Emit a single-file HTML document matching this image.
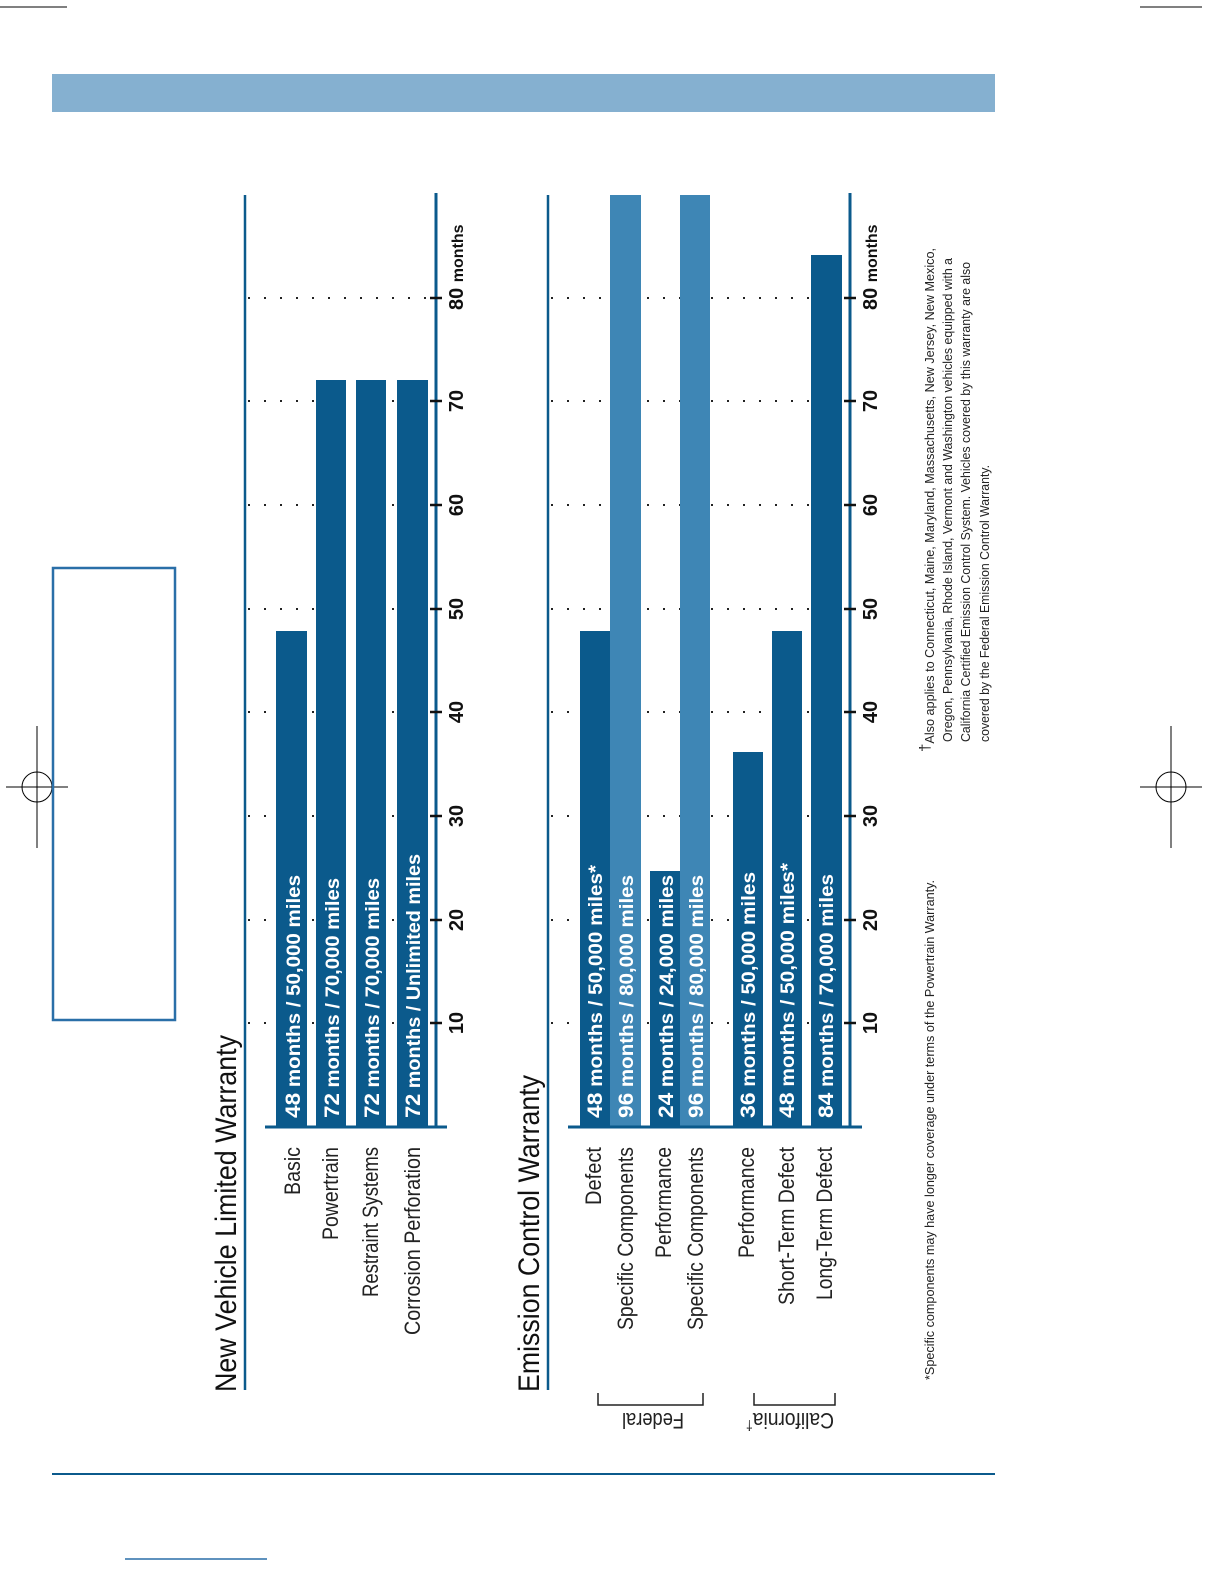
<!DOCTYPE html>
<html><head><meta charset="utf-8"><style>html,body{margin:0;padding:0;background:#fff}svg{display:block}</style></head>
<body>
<svg width="1224" height="1584" viewBox="0 0 1224 1584" xmlns="http://www.w3.org/2000/svg" font-family="Liberation Sans, sans-serif">
<!-- crop marks -->
<g stroke="#000" stroke-width="1" fill="none">
<line x1="0" y1="7" x2="67" y2="7"/><line x1="1140" y1="7" x2="1202" y2="7"/>
<circle cx="37" cy="787" r="15"/><line x1="37" y1="726" x2="37" y2="848"/><line x1="6" y1="787" x2="68" y2="787"/>
<circle cx="1171" cy="787" r="15"/><line x1="1171" y1="726" x2="1171" y2="848"/><line x1="1140" y1="787" x2="1202" y2="787"/>
</g>
<rect x="52" y="74" width="943" height="38" fill="#85b0d0"/>
<rect x="53" y="568" width="122" height="452" fill="none" stroke="#2a6fa8" stroke-width="2.5"/>
<line x1="52" y1="1474" x2="995" y2="1474" stroke="#0b5a8c" stroke-width="2"/>
<line x1="125" y1="1559" x2="267" y2="1559" stroke="#2a6fa8" stroke-width="1.5"/>

<!-- gridlines -->
<g stroke="#222" stroke-width="2" stroke-dasharray="2 14">
<line x1="248" y1="1023" x2="430" y2="1023"/><line x1="248" y1="920" x2="430" y2="920"/><line x1="248" y1="816" x2="430" y2="816"/><line x1="248" y1="712" x2="430" y2="712"/><line x1="248" y1="609" x2="430" y2="609"/><line x1="248" y1="505" x2="430" y2="505"/><line x1="248" y1="401" x2="430" y2="401"/><line x1="248" y1="298" x2="430" y2="298"/>
<line x1="551" y1="1023" x2="845" y2="1023"/><line x1="551" y1="920" x2="845" y2="920"/><line x1="551" y1="816" x2="845" y2="816"/><line x1="551" y1="712" x2="845" y2="712"/><line x1="551" y1="609" x2="845" y2="609"/><line x1="551" y1="505" x2="845" y2="505"/><line x1="551" y1="401" x2="845" y2="401"/><line x1="551" y1="298" x2="845" y2="298"/>
</g>

<!-- chart 1 -->
<line x1="245" y1="195" x2="245" y2="1390" stroke="#0b5a8c" stroke-width="2.5"/>
<g fill="#0b5a8c">
<rect x="276" y="631" width="31" height="496"/>
<rect x="316" y="380" width="30" height="747"/>
<rect x="356" y="380" width="30" height="747"/>
<rect x="397" y="380" width="31" height="747"/>
</g>
<line x1="436" y1="193" x2="436" y2="1127" stroke="#0b5a8c" stroke-width="3"/>
<line x1="265" y1="1127" x2="447" y2="1127" stroke="#0b5a8c" stroke-width="3"/>
<g stroke="#111" stroke-width="2.5">
<line x1="430" y1="1023" x2="442" y2="1023"/><line x1="430" y1="920" x2="442" y2="920"/><line x1="430" y1="816" x2="442" y2="816"/><line x1="430" y1="712" x2="442" y2="712"/><line x1="430" y1="609" x2="442" y2="609"/><line x1="430" y1="505" x2="442" y2="505"/><line x1="430" y1="401" x2="442" y2="401"/><line x1="430" y1="298" x2="442" y2="298"/>
</g>
<!-- chart 2 -->
<line x1="548" y1="195" x2="548" y2="1390" stroke="#0b5a8c" stroke-width="2.5"/>
<rect x="580" y="631" width="30" height="496" fill="#0b5a8c"/>
<rect x="610" y="195" width="31" height="932" fill="#3e86b5"/>
<rect x="650" y="871" width="30" height="256" fill="#0b5a8c"/>
<rect x="680" y="195" width="30" height="932" fill="#3e86b5"/>
<rect x="733" y="752" width="30" height="375" fill="#0b5a8c"/>
<rect x="772" y="631" width="30" height="496" fill="#0b5a8c"/>
<rect x="811" y="255" width="31" height="872" fill="#0b5a8c"/>
<line x1="850" y1="193" x2="850" y2="1127" stroke="#0b5a8c" stroke-width="3"/>
<line x1="568" y1="1127" x2="862" y2="1127" stroke="#0b5a8c" stroke-width="3"/>
<g stroke="#111" stroke-width="2.5">
<line x1="844" y1="1023" x2="856" y2="1023"/><line x1="844" y1="920" x2="856" y2="920"/><line x1="844" y1="816" x2="856" y2="816"/><line x1="844" y1="712" x2="856" y2="712"/><line x1="844" y1="609" x2="856" y2="609"/><line x1="844" y1="505" x2="856" y2="505"/><line x1="844" y1="401" x2="856" y2="401"/><line x1="844" y1="298" x2="856" y2="298"/>
</g>

<!-- tick labels -->
<g font-weight="bold" font-size="20" fill="#111" text-anchor="middle">
<text transform="translate(463,1023) rotate(-90)">10</text><text transform="translate(463,920) rotate(-90)">20</text><text transform="translate(463,816) rotate(-90)">30</text><text transform="translate(463,712) rotate(-90)">40</text><text transform="translate(463,609) rotate(-90)">50</text><text transform="translate(463,505) rotate(-90)">60</text><text transform="translate(463,401) rotate(-90)">70</text>
<text transform="translate(877,1023) rotate(-90)">10</text><text transform="translate(877,920) rotate(-90)">20</text><text transform="translate(877,816) rotate(-90)">30</text><text transform="translate(877,712) rotate(-90)">40</text><text transform="translate(877,609) rotate(-90)">50</text><text transform="translate(877,505) rotate(-90)">60</text><text transform="translate(877,401) rotate(-90)">70</text>
</g>
<g font-weight="bold" fill="#111">
<text transform="translate(463,310) rotate(-90)" font-size="20">80 <tspan font-size="16">months</tspan></text>
<text transform="translate(877,310) rotate(-90)" font-size="20">80 <tspan font-size="16">months</tspan></text>
</g>

<!-- bar labels -->
<g font-weight="bold" font-size="19" fill="#fff">
<text transform="translate(300,1118) rotate(-90)" textLength="243" lengthAdjust="spacingAndGlyphs"><tspan font-size="21">48</tspan> months / 50,000 miles</text>
<text transform="translate(339,1118) rotate(-90)" textLength="240" lengthAdjust="spacingAndGlyphs"><tspan font-size="21">72</tspan> months / 70,000 miles</text>
<text transform="translate(379,1118) rotate(-90)" textLength="240" lengthAdjust="spacingAndGlyphs"><tspan font-size="21">72</tspan> months / 70,000 miles</text>
<text transform="translate(420,1118) rotate(-90)" textLength="264" lengthAdjust="spacingAndGlyphs"><tspan font-size="21">72</tspan> months / Unlimited miles</text>
<text transform="translate(602,1118) rotate(-90)" textLength="253" lengthAdjust="spacingAndGlyphs"><tspan font-size="21">48</tspan> months / 50,000 miles*</text>
<text transform="translate(633,1118) rotate(-90)" textLength="243" lengthAdjust="spacingAndGlyphs"><tspan font-size="21">96</tspan> months / 80,000 miles</text>
<text transform="translate(673,1118) rotate(-90)" textLength="243" lengthAdjust="spacingAndGlyphs"><tspan font-size="21">24</tspan> months / 24,000 miles</text>
<text transform="translate(703,1118) rotate(-90)" textLength="243" lengthAdjust="spacingAndGlyphs"><tspan font-size="21">96</tspan> months / 80,000 miles</text>
<text transform="translate(755,1118) rotate(-90)" textLength="246" lengthAdjust="spacingAndGlyphs"><tspan font-size="21">36</tspan> months / 50,000 miles</text>
<text transform="translate(794,1118) rotate(-90)" textLength="255" lengthAdjust="spacingAndGlyphs"><tspan font-size="21">48</tspan> months / 50,000 miles*</text>
<text transform="translate(833,1118) rotate(-90)" textLength="244" lengthAdjust="spacingAndGlyphs"><tspan font-size="21">84</tspan> months / 70,000 miles</text>
</g>

<!-- titles -->
<g font-size="30" fill="#111">
<text transform="translate(236,1392) rotate(-90)" textLength="357" lengthAdjust="spacingAndGlyphs">New Vehicle Limited Warranty</text>
<text transform="translate(539,1392) rotate(-90)" textLength="317" lengthAdjust="spacingAndGlyphs">Emission Control Warranty</text>
</g>
<!-- category labels -->
<g font-size="22" fill="#222" text-anchor="end">
<text transform="translate(300,1147) rotate(-90)" textLength="48" lengthAdjust="spacingAndGlyphs">Basic</text>
<text transform="translate(338,1147) rotate(-90)" textLength="93" lengthAdjust="spacingAndGlyphs">Powertrain</text>
<text transform="translate(378,1147) rotate(-90)" textLength="150" lengthAdjust="spacingAndGlyphs">Restraint Systems</text>
<text transform="translate(420,1147) rotate(-90)" textLength="188" lengthAdjust="spacingAndGlyphs">Corrosion Perforation</text>
<text transform="translate(601,1147) rotate(-90)" textLength="58" lengthAdjust="spacingAndGlyphs">Defect</text>
<text transform="translate(633,1147) rotate(-90)" textLength="183" lengthAdjust="spacingAndGlyphs">Specific Components</text>
<text transform="translate(671,1147) rotate(-90)" textLength="111" lengthAdjust="spacingAndGlyphs">Performance</text>
<text transform="translate(703,1147) rotate(-90)" textLength="183" lengthAdjust="spacingAndGlyphs">Specific Components</text>
<text transform="translate(754,1147) rotate(-90)" textLength="111" lengthAdjust="spacingAndGlyphs">Performance</text>
<text transform="translate(794,1147) rotate(-90)" textLength="158" lengthAdjust="spacingAndGlyphs">Short-Term Defect</text>
<text transform="translate(832,1147) rotate(-90)" textLength="153" lengthAdjust="spacingAndGlyphs">Long-Term Defect</text>
</g>
<!-- brackets -->
<g fill="none" stroke="#222" stroke-width="1.5">
<polyline points="598,1393 598,1405 703,1405 703,1393"/>
<polyline points="754,1393 754,1405 835,1405 835,1393"/>
</g>
<g font-size="22" fill="#222" text-anchor="middle">
<text transform="translate(653,1413) rotate(180)" textLength="62" lengthAdjust="spacingAndGlyphs">Federal</text>
<text transform="translate(790,1413) rotate(180)" textLength="88" lengthAdjust="spacingAndGlyphs">California<tspan font-size="14" dy="-8">†</tspan></text>
</g>

<!-- footnotes -->
<g font-size="12.5" fill="#222">
<text transform="translate(934,1380) rotate(-90)" textLength="500" lengthAdjust="spacingAndGlyphs">*Specific components may have longer coverage under terms of the Powertrain Warranty.</text>
<text transform="translate(934,752) rotate(-90)" textLength="504" lengthAdjust="spacingAndGlyphs"><tspan font-size="15" dy="-4">†</tspan><tspan dy="4">Also applies to Connecticut, Maine, Maryland, Massachusetts, New Jersey, New Mexico,</tspan></text>
<text transform="translate(952,742) rotate(-90)" textLength="484" lengthAdjust="spacingAndGlyphs">Oregon, Pennsylvania, Rhode Island, Vermont and Washington vehicles equipped with a</text>
<text transform="translate(970,742) rotate(-90)" textLength="480" lengthAdjust="spacingAndGlyphs">California Certified Emission Control System. Vehicles covered by this warranty are also</text>
<text transform="translate(989,742) rotate(-90)" textLength="277" lengthAdjust="spacingAndGlyphs">covered by the Federal Emission Control Warranty.</text>
</g>
</svg>
</body></html>
